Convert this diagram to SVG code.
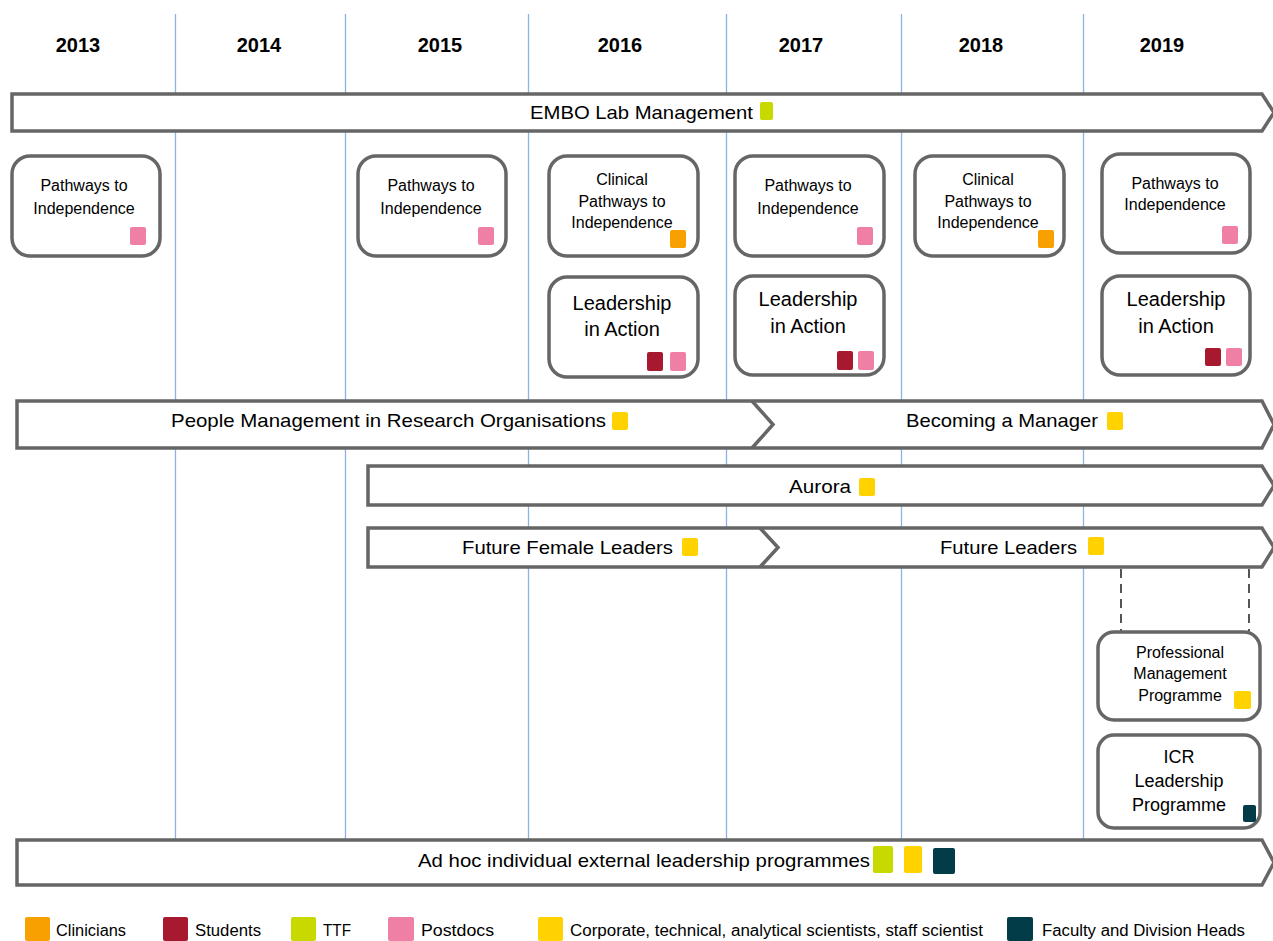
<svg xmlns="http://www.w3.org/2000/svg" width="1273" height="941" viewBox="0 0 1273 941">
<style>
.grid{stroke:#8DB3E2;stroke-width:1.3;fill:none}
.year{font-family:"Liberation Sans",Arial,sans-serif;font-weight:bold;font-size:20px;fill:#000;text-anchor:middle}
.bar{fill:#fff;stroke:#666;stroke-width:3.5;stroke-linejoin:miter}
.chev{fill:none;stroke:#666;stroke-width:3.5}
.box{fill:#fff;stroke:#666;stroke-width:3.5}
.bt{font-family:"Liberation Sans",Arial,sans-serif;font-size:19px;fill:#000}
.st{font-family:"Liberation Sans",Arial,sans-serif;font-size:16px;fill:#000;text-anchor:middle}
.lt{font-family:"Liberation Sans",Arial,sans-serif;font-size:20px;fill:#000;text-anchor:middle}
.it{font-family:"Liberation Sans",Arial,sans-serif;font-size:18px;fill:#000;text-anchor:middle}
.lg{font-family:"Liberation Sans",Arial,sans-serif;font-size:16px;fill:#000}
.cl{fill:#F7A000}.su{fill:#A6192E}.tt{fill:#C8D900}.pd{fill:#EF7FA5}.co{fill:#FFD200}.fa{fill:#023C49}
.dash{stroke:#555;stroke-width:2;stroke-dasharray:9,6;fill:none}
</style>

<g id="grid">
<line class="grid" x1="175.5" y1="14" x2="175.5" y2="840"/>
<line class="grid" x1="345.5" y1="14" x2="345.5" y2="840"/>
<line class="grid" x1="528.5" y1="14" x2="528.5" y2="840"/>
<line class="grid" x1="726.5" y1="14" x2="726.5" y2="840"/>
<line class="grid" x1="901.5" y1="14" x2="901.5" y2="840"/>
<line class="grid" x1="1083.5" y1="14" x2="1083.5" y2="840"/>
</g>

<g id="years">
<text class="year" x="78" y="52">2013</text>
<text class="year" x="259" y="52">2014</text>
<text class="year" x="440" y="52">2015</text>
<text class="year" x="620" y="52">2016</text>
<text class="year" x="801" y="52">2017</text>
<text class="year" x="981" y="52">2018</text>
<text class="year" x="1162" y="52">2019</text>
</g>

<g id="embo">
<path class="bar" d="M12,94 H1262 L1274,112.5 L1262,131 H12 Z"/>
<text class="bt" x="530" y="119" textLength="223" lengthAdjust="spacingAndGlyphs">EMBO Lab Management</text>
<rect class="tt" x="760" y="102" width="13" height="18" rx="2"/>
</g>

<g id="pti2013">
<rect class="box" x="12" y="156" width="148" height="100" rx="18"/>
<text class="st" x="84" y="191">Pathways to</text>
<text class="st" x="84" y="214">Independence</text>
<rect class="pd" x="130" y="227" width="16" height="18" rx="2"/>
</g>
<g id="pti2015">
<rect class="box" x="358" y="156" width="148" height="100" rx="18"/>
<text class="st" x="431" y="191">Pathways to</text>
<text class="st" x="431" y="214">Independence</text>
<rect class="pd" x="478" y="227" width="16" height="18" rx="2"/>
</g>
<g id="cpti2016">
<rect class="box" x="549" y="156" width="149" height="100" rx="18"/>
<text class="st" x="622" y="185">Clinical</text>
<text class="st" x="622" y="207">Pathways to</text>
<text class="st" x="622" y="228">Independence</text>
<rect class="cl" x="670" y="230" width="16" height="18" rx="2"/>
</g>
<g id="pti2017">
<rect class="box" x="735" y="156" width="149" height="100" rx="18"/>
<text class="st" x="808" y="191">Pathways to</text>
<text class="st" x="808" y="214">Independence</text>
<rect class="pd" x="857" y="227" width="16" height="18" rx="2"/>
</g>
<g id="cpti2018">
<rect class="box" x="915" y="156" width="149" height="100" rx="18"/>
<text class="st" x="988" y="185">Clinical</text>
<text class="st" x="988" y="207">Pathways to</text>
<text class="st" x="988" y="228">Independence</text>
<rect class="cl" x="1038" y="230" width="16" height="18" rx="2"/>
</g>
<g id="pti2019">
<rect class="box" x="1102" y="154" width="148" height="99" rx="18"/>
<text class="st" x="1175" y="189">Pathways to</text>
<text class="st" x="1175" y="210">Independence</text>
<rect class="pd" x="1222" y="226" width="16" height="18" rx="2"/>
</g>

<g id="lia2016">
<rect class="box" x="549" y="277" width="149" height="100" rx="18"/>
<text class="lt" x="622" y="310">Leadership</text>
<text class="lt" x="622" y="336">in Action</text>
<rect class="su" x="647" y="352" width="16" height="19" rx="2"/>
<rect class="pd" x="670" y="352" width="16" height="19" rx="2"/>
</g>
<g id="lia2017">
<rect class="box" x="735" y="276" width="149" height="99" rx="18"/>
<text class="lt" x="808" y="306">Leadership</text>
<text class="lt" x="808" y="333">in Action</text>
<rect class="su" x="837" y="351" width="16" height="19" rx="2"/>
<rect class="pd" x="858" y="351" width="16" height="19" rx="2"/>
</g>
<g id="lia2019">
<rect class="box" x="1102" y="276" width="148" height="99" rx="18"/>
<text class="lt" x="1176" y="306">Leadership</text>
<text class="lt" x="1176" y="333">in Action</text>
<rect class="su" x="1205" y="348" width="16" height="18" rx="2"/>
<rect class="pd" x="1226" y="348" width="16" height="18" rx="2"/>
</g>

<g id="people-becoming">
<path class="bar" d="M17,401 H1262 L1274,424.5 L1262,448 H17 Z"/>
<path class="chev" d="M752,401 L773,424.5 L752,448"/>
<text class="bt" x="171" y="427" textLength="435" lengthAdjust="spacingAndGlyphs">People Management in Research Organisations</text>
<rect class="co" x="612" y="412" width="16" height="18" rx="2"/>
<text class="bt" x="906" y="427" textLength="192" lengthAdjust="spacingAndGlyphs">Becoming a Manager</text>
<rect class="co" x="1107" y="412" width="16" height="18" rx="2"/>
</g>

<g id="aurora">
<path class="bar" d="M368,466 H1262 L1274,485.5 L1262,505 H368 Z"/>
<text class="bt" x="789" y="493" textLength="62" lengthAdjust="spacingAndGlyphs">Aurora</text>
<rect class="co" x="859" y="478" width="16" height="18" rx="2"/>
</g>

<g id="future">
<path class="bar" d="M368,528 H1262 L1274,547.5 L1262,567 H368 Z"/>
<path class="chev" d="M760,528 L778,547.5 L760,567"/>
<text class="bt" x="462" y="554" textLength="211" lengthAdjust="spacingAndGlyphs">Future Female Leaders</text>
<rect class="co" x="682" y="538" width="16" height="18" rx="2"/>
<text class="bt" x="940" y="554" textLength="137" lengthAdjust="spacingAndGlyphs">Future Leaders</text>
<rect class="co" x="1088" y="537" width="16" height="18" rx="2"/>
</g>

<g id="connectors">
<line class="dash" x1="1121" y1="569" x2="1121" y2="631"/>
<line class="dash" x1="1249" y1="569" x2="1249" y2="631"/>
</g>

<g id="pmp">
<rect class="box" x="1098" y="632" width="162" height="88" rx="16"/>
<text class="st" x="1180" y="658">Professional</text>
<text class="st" x="1180" y="679">Management</text>
<text class="st" x="1180" y="701">Programme</text>
<rect class="co" x="1234" y="691" width="17" height="18" rx="2"/>
</g>

<g id="icr">
<rect class="box" x="1098" y="735" width="162" height="93" rx="16"/>
<text class="it" x="1179" y="763">ICR</text>
<text class="it" x="1179" y="787">Leadership</text>
<text class="it" x="1179" y="811">Programme</text>
<rect class="fa" x="1243" y="805" width="13" height="17" rx="2"/>
</g>

<g id="adhoc">
<path class="bar" d="M17,840 H1262 L1274,862.5 L1262,885 H17 Z"/>
<text class="bt" x="418" y="867" textLength="452" lengthAdjust="spacingAndGlyphs">Ad hoc individual external leadership programmes</text>
<rect class="tt" x="873" y="846" width="20" height="27" rx="2"/>
<rect class="co" x="904" y="846" width="18" height="27" rx="2"/>
<rect class="fa" x="933" y="848" width="22" height="26" rx="2"/>
</g>

<g id="legend">
<rect class="cl" x="25" y="917" width="25" height="24" rx="2"/>
<text class="lg" x="56" y="936" textLength="70" lengthAdjust="spacingAndGlyphs">Clinicians</text>
<rect class="su" x="163" y="917" width="25" height="24" rx="2"/>
<text class="lg" x="195" y="936" textLength="66" lengthAdjust="spacingAndGlyphs">Students</text>
<rect class="tt" x="291" y="917" width="25" height="24" rx="2"/>
<text class="lg" x="323" y="936" textLength="28" lengthAdjust="spacingAndGlyphs">TTF</text>
<rect class="pd" x="388" y="917" width="26" height="24" rx="2"/>
<text class="lg" x="421" y="936" textLength="73" lengthAdjust="spacingAndGlyphs">Postdocs</text>
<rect class="co" x="538" y="917" width="25" height="24" rx="2"/>
<text class="lg" x="570" y="936" textLength="413" lengthAdjust="spacingAndGlyphs">Corporate, technical, analytical scientists, staff scientist</text>
<rect class="fa" x="1007" y="917" width="26" height="24" rx="2"/>
<text class="lg" x="1042" y="936" textLength="203" lengthAdjust="spacingAndGlyphs">Faculty and Division Heads</text>
</g>
</svg>
